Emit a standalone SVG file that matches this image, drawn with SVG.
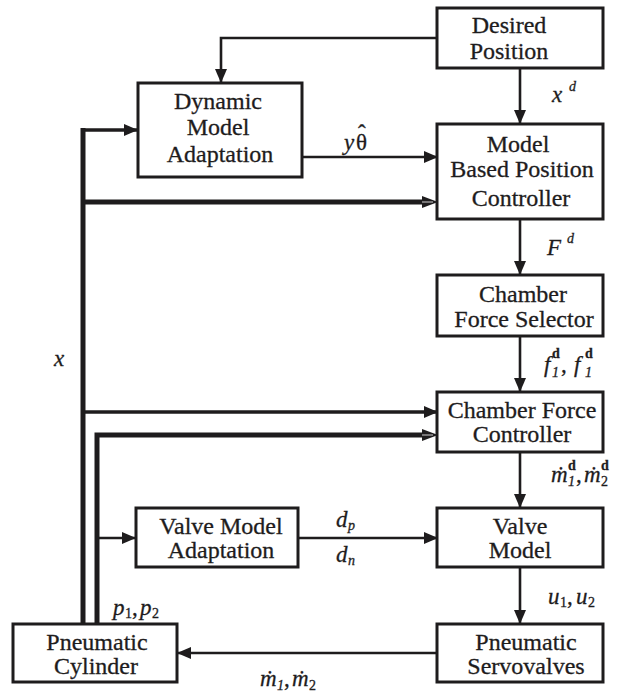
<svg xmlns="http://www.w3.org/2000/svg" width="624" height="693" viewBox="0 0 624 693">
  <style>
    .box { fill: #ffffff; stroke: #1e1c1d; stroke-width: 3; }
    .lbl { font-family: "Liberation Serif", "Times New Roman", serif; font-size: 24px; fill: #1e1c1d; stroke: #1e1c1d; stroke-width: 0.3; text-anchor: middle; }
    .sym { font-family: "Liberation Serif", "DejaVu Serif", serif; font-size: 23px; font-style: italic; fill: #1e1c1d; stroke: #1e1c1d; stroke-width: 0.3; }
    .sm { font-size: 14px; }
    .up { font-style: normal; }
    .bd { font-weight: bold; }
    .ln { fill: none; stroke: #1e1c1d; stroke-width: 2.6; }
    .md { stroke-width: 3.4; }
    .tk { stroke-width: 5; }
  </style>
  <defs>
    <marker id="arr" markerUnits="userSpaceOnUse" markerWidth="16" markerHeight="14" refX="14" refY="6" orient="auto" viewBox="0 0 16 14">
      <path d="M0,0 L14,6 L0,12 z" fill="#1e1c1d"/>
    </marker>
    <marker id="arrT" markerUnits="userSpaceOnUse" markerWidth="18" markerHeight="14" refX="8" refY="6" orient="auto" viewBox="0 0 18 14">
      <path d="M0,0 L16,6 L0,12 z" fill="#1e1c1d"/>
      <path d="M0,6 H11" stroke="#ffffff" stroke-width="0.8"/>
    </marker>
  </defs>

  <!-- signal lines -->
  <g id="connectors">
    <path class="ln" d="M437,38 H221 V83" marker-end="url(#arr)"/>
    <path class="ln" d="M520,68 V124" marker-end="url(#arr)"/>
    <path class="ln" d="M302,157 H438" marker-end="url(#arr)"/>
    <path class="ln md" d="M83,130 H138" marker-end="url(#arr)"/>
    <path class="ln tk" d="M83,128 V624"/>
    <path class="ln tk" d="M83,202 H430" marker-end="url(#arrT)"/>
    <path class="ln" d="M520,219 V275" marker-end="url(#arr)"/>
    <path class="ln" d="M520,336 V392" marker-end="url(#arr)"/>
    <path class="ln md" d="M83,412 H438" marker-end="url(#arr)"/>
    <path class="ln tk" d="M97,624 V435 H430" marker-end="url(#arrT)"/>
    <path class="ln" d="M520,452 V508" marker-end="url(#arr)"/>
    <path class="ln" d="M97,538 H136" marker-end="url(#arr)"/>
    <path class="ln" d="M298,538 H438" marker-end="url(#arr)"/>
    <path class="ln" d="M520,567 V624" marker-end="url(#arr)"/>
    <path class="ln" d="M438,653 H177" marker-end="url(#arr)"/>
  </g>

  <!-- blocks -->
  <g id="desired-position">
    <rect class="box" x="437" y="8" width="166" height="60"/>
    <text class="lbl"><tspan x="509" y="33">Desired</tspan><tspan x="509" y="59">Position</tspan></text>
  </g>
  <g id="dynamic-model-adaptation">
    <rect class="box" x="138" y="83" width="164" height="94"/>
    <text class="lbl"><tspan x="218" y="109">Dynamic</tspan><tspan x="218" y="135">Model</tspan><tspan x="220" y="162">Adaptation</tspan></text>
  </g>
  <g id="model-based-position-controller">
    <rect class="box" x="437" y="124" width="166" height="95"/>
    <text class="lbl"><tspan x="518" y="152">Model</tspan><tspan x="522" y="177">Based Position</tspan><tspan x="521" y="206">Controller</tspan></text>
  </g>
  <g id="chamber-force-selector">
    <rect class="box" x="437" y="275" width="166" height="61"/>
    <text class="lbl"><tspan x="523" y="302">Chamber</tspan><tspan x="524" y="327">Force Selector</tspan></text>
  </g>
  <g id="chamber-force-controller">
    <rect class="box" x="437" y="392" width="166" height="60"/>
    <text class="lbl"><tspan x="522" y="418">Chamber Force</tspan><tspan x="522" y="442">Controller</tspan></text>
  </g>
  <g id="valve-model">
    <rect class="box" x="437" y="508" width="166" height="59"/>
    <text class="lbl"><tspan x="520" y="534">Valve</tspan><tspan x="520" y="558">Model</tspan></text>
  </g>
  <g id="valve-model-adaptation">
    <rect class="box" x="136" y="508" width="162" height="59"/>
    <text class="lbl"><tspan x="221" y="534">Valve Model</tspan><tspan x="221" y="558">Adaptation</tspan></text>
  </g>
  <g id="pneumatic-servovalves">
    <rect class="box" x="437" y="624" width="166" height="58"/>
    <text class="lbl"><tspan x="526" y="650">Pneumatic</tspan><tspan x="526" y="674">Servovalves</tspan></text>
  </g>
  <g id="pneumatic-cylinder">
    <rect class="box" x="13" y="624" width="164" height="58"/>
    <text class="lbl"><tspan x="97" y="650">Pneumatic</tspan><tspan x="96" y="674">Cylinder</tspan></text>
  </g>

  <!-- signal names -->
  <g id="signal-labels">
    <text class="sym"><tspan x="552" y="102">x</tspan><tspan class="sm" x="569" y="91">d</tspan></text>

    <!-- y theta-hat: circumflex set above the theta -->
    <text class="sym"><tspan x="344" y="150">y</tspan><tspan class="up" x="356" y="150">θ</tspan><tspan class="up" x="358" y="141">ˆ</tspan></text>

    <text class="sym"><tspan x="547" y="255">F</tspan><tspan class="sm" x="567" y="243">d</tspan></text>

    <text class="sym"><tspan x="544" y="372">f</tspan><tspan class="sm up bd" x="552" y="358">d</tspan><tspan class="sm" x="552" y="377">1</tspan><tspan class="up" x="561" y="372">,</tspan><tspan x="574" y="372">f</tspan><tspan class="sm up bd" x="585" y="358">d</tspan><tspan class="sm" x="585" y="377">1</tspan></text>

    <text class="sym" x="54" y="366">x</text>

    <text class="sym"><tspan x="551" y="482">ṁ</tspan><tspan class="sm up bd" x="568" y="470">d</tspan><tspan class="sm" x="568" y="486">1</tspan><tspan class="up" x="576" y="482">,</tspan><tspan x="584" y="482">ṁ</tspan><tspan class="sm up bd" x="601" y="470">d</tspan><tspan class="sm up" x="601" y="486">2</tspan></text>

    <text class="sym"><tspan x="336" y="527">d</tspan><tspan class="sm" x="348" y="530">p</tspan></text>
    <text class="sym"><tspan x="336" y="562">d</tspan><tspan class="sm" x="348" y="565">n</tspan></text>

    <text class="sym"><tspan x="548" y="604">u</tspan><tspan class="sm up" x="560" y="607">1</tspan><tspan class="up" x="567" y="604">,</tspan><tspan x="576" y="604">u</tspan><tspan class="sm up" x="588" y="607">2</tspan></text>

    <text class="sym"><tspan x="113" y="615">p</tspan><tspan class="sm up" x="125" y="618">1</tspan><tspan class="up" x="132" y="615">,</tspan><tspan x="140" y="615">p</tspan><tspan class="sm up" x="152" y="618">2</tspan></text>

    <text class="sym"><tspan x="260" y="686">ṁ</tspan><tspan class="sm" x="277" y="690">1</tspan><tspan class="up" x="284" y="686">,</tspan><tspan x="292" y="686">ṁ</tspan><tspan class="sm up" x="309" y="690">2</tspan></text>
  </g>
</svg>
